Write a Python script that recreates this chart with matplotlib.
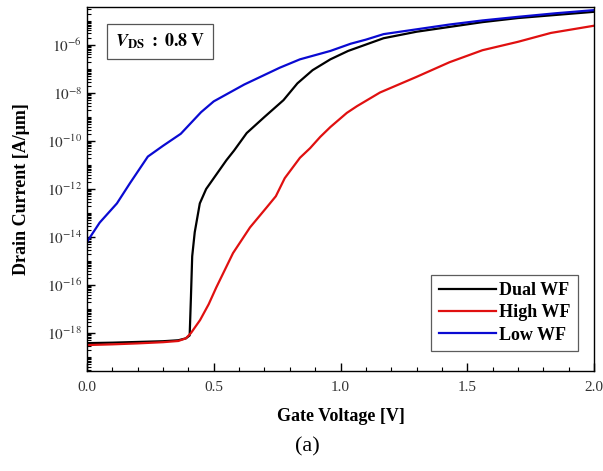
import numpy as np
import matplotlib
matplotlib.use("Agg")
import matplotlib.pyplot as plt
from matplotlib.ticker import LogLocator, FuncFormatter, MultipleLocator, NullFormatter

plt.rcParams["font.family"] = ["Liberation Serif", "DejaVu Serif"]
plt.rcParams["mathtext.fontset"] = "stix"

# Gate voltage [V] and log10 of drain current [A/um]
dual_vg = [0.0, 0.1, 0.2, 0.3, 0.36, 0.39, 0.405, 0.410, 0.415, 0.425, 0.445,
           0.47, 0.50, 0.55, 0.58, 0.63, 0.70, 0.775, 0.83, 0.89, 0.96, 1.03,
           1.17, 1.30, 1.43, 1.56, 1.70, 1.85, 2.0]
dual_log = [-18.42, -18.40, -18.37, -18.34, -18.30, -18.22, -18.1, -16.5, -14.8,
            -13.8, -12.6, -12.0, -11.55, -10.8, -10.4, -9.67, -9.0, -8.3, -7.6,
            -7.05, -6.6, -6.25, -5.72, -5.45, -5.25, -5.05, -4.88, -4.75, -4.62]

high_vg = [0.0, 0.1, 0.2, 0.3, 0.36, 0.39, 0.41, 0.446, 0.48, 0.51, 0.576, 0.643,
           0.71, 0.745, 0.78, 0.84, 0.88, 0.92, 0.96, 1.025, 1.065, 1.156, 1.30,
           1.43, 1.56, 1.70, 1.83, 2.0]
high_log = [-18.5, -18.47, -18.43, -18.38, -18.33, -18.22, -18.0, -17.46, -16.8,
            -16.1, -14.67, -13.6, -12.75, -12.3, -11.55, -10.7, -10.3, -9.83,
            -9.42, -8.83, -8.55, -7.98, -7.33, -6.72, -6.22, -5.87, -5.5, -5.2]

low_vg = [0.0, 0.05, 0.118, 0.17, 0.24, 0.30, 0.37, 0.41, 0.45, 0.50, 0.56, 0.62,
          0.70, 0.76, 0.84, 0.96, 1.04, 1.10, 1.17, 1.30, 1.43, 1.56, 1.70, 1.85,
          2.0]
low_log = [-14.2, -13.4, -12.6, -11.75, -10.65, -10.2, -9.7, -9.25, -8.8, -8.35,
           -8.0, -7.65, -7.25, -6.95, -6.6, -6.25, -5.95, -5.78, -5.55, -5.35,
           -5.15, -4.98, -4.83, -4.68, -4.55]

series = [
    ("Dual WF", dual_vg, dual_log, "#000000"),
    ("High WF", high_vg, high_log, "#e01010"),
    ("Low WF", low_vg, low_log, "#0a0ad2"),
]

fig = plt.figure(figsize=(6.03, 4.71), dpi=100)
ax = fig.add_axes([87 / 603, 100 / 471, 507 / 603, 364 / 471])

for name, vg, lg, color in series:
    ax.semilogy(vg, 10.0 ** np.asarray(lg), color=color, lw=1.6, label=name)

ax.set_xlim(0.0, 2.0)
ax.set_ylim(10 ** -19.58, 10 ** -4.42)

ax.xaxis.set_major_locator(MultipleLocator(0.5))
ax.xaxis.set_minor_locator(MultipleLocator(0.1))
ax.xaxis.set_major_formatter(FuncFormatter(lambda v, p: f"{v:.1f}"))

# labelled ticks on every second decade, minor ticks everywhere else
ax.yaxis.set_major_locator(LogLocator(base=100, numticks=30))
ax.yaxis.set_minor_locator(LogLocator(base=10, subs=np.arange(1, 10), numticks=30))
ax.yaxis.set_major_formatter(
    FuncFormatter(lambda v, p: rf"$10^{{{int(round(np.log10(v)))}}}$"))
ax.yaxis.set_minor_formatter(NullFormatter())

ax.tick_params(which="both", direction="in", top=False, right=False,
               labelsize=11, labelcolor="#333333")
ax.tick_params(which="major", length=6, width=1.0)
ax.tick_params(which="minor", length=3, width=0.8)
ax.tick_params(axis="x", pad=7)
for s in ax.spines.values():
    s.set_linewidth(1.0)

ax.set_xlabel("Gate Voltage [V]", fontsize=13, fontweight="bold", labelpad=10)
ax.set_ylabel("Drain Current [A/\u03bcm]", fontsize=13, fontweight="bold", labelpad=12)

ax.text(0.055, 0.905, r"$\boldsymbol{V}_{\mathbf{DS}}\ \mathbf{:\ 0.8\ V}$",
        transform=ax.transAxes, fontsize=13, va="center", ha="left",
        bbox=dict(boxstyle="square,pad=0.45", fc="white", ec="#555555", lw=0.9))

leg = ax.legend(loc="lower right", bbox_to_anchor=(0.968, 0.055), frameon=True,
                fancybox=False, edgecolor="#333333", handlelength=3.2,
                handletextpad=0.15, borderpad=0.4, labelspacing=0.3,
                borderaxespad=0.0,
                prop={"family": "Liberation Serif", "weight": "bold", "size": 13})
leg.get_frame().set_linewidth(0.9)

fig.text(307 / 603, 1 - 447 / 471, "(a)", fontsize=16, ha="center", va="center")

fig.savefig("out.png", dpi=100)
